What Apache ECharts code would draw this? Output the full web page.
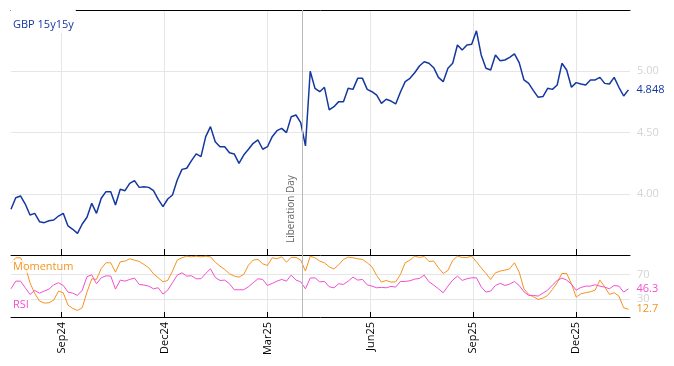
<!DOCTYPE html>
<html><head><meta charset="utf-8">
<script src="https://cdn.jsdelivr.net/npm/echarts@6/dist/echarts.min.js"></script>
<style>html,body{margin:0;padding:0;background:#fff}#c{width:674px;height:366px}</style>
</head><body><div id="c"></div>
<script>
// ---- data (one sample every STEP business days from START_DATE) ----
const START_DATE = '2024-07-18';
const STEP = 3;
const gbp = [3.873,3.968,3.982,3.916,3.827,3.84,3.772,3.764,3.78,3.786,
3.818,3.84,3.737,3.71,3.677,3.753,3.808,3.922,3.84,3.963,
4.017,4.017,3.908,4.036,4.025,4.085,4.107,4.052,4.058,4.052,
4.025,3.954,3.895,3.957,3.99,4.112,4.199,4.208,4.27,4.325,
4.303,4.466,4.548,4.425,4.384,4.384,4.335,4.325,4.248,4.316,
4.363,4.412,4.439,4.363,4.384,4.466,4.515,4.534,4.499,4.629,
4.643,4.58,4.39,5.0,4.861,4.833,4.869,4.684,4.711,4.752,
4.752,4.861,4.852,4.942,4.942,4.852,4.833,4.806,4.738,4.771,
4.757,4.733,4.831,4.915,4.942,4.988,5.043,5.078,5.065,5.029,
4.95,4.915,5.024,5.065,5.214,5.173,5.214,5.22,5.33,5.133,
5.024,5.01,5.133,5.086,5.092,5.114,5.141,5.07,4.929,4.901,
4.842,4.787,4.793,4.861,4.852,4.888,5.065,5.01,4.869,4.907,
4.896,4.888,4.929,4.929,4.95,4.901,4.896,4.95,4.869,4.798,4.848];
const momentum = [89.2,97.4,97.4,83.7,56.3,38.8,26.2,22.9,23.4,27.8,
42.6,39.9,19.6,14.1,10.8,15.2,41,62.9,61.8,79.9,
89.2,89.2,73.8,90.8,91.9,95.8,93.6,91.4,86.4,81,
71.1,64.5,57.9,60.1,75.5,93.6,97.4,100,99,100,
99,100,99,90.3,83.7,78.2,71.1,67.3,65.6,70,
85.3,93.6,94.7,87.5,84.8,97.4,95.8,99,90.3,98,
98,93.6,75.5,100,97.4,91.9,89.2,82.6,79,86,
94.7,98.5,97.4,95.8,94.7,89.2,82.6,68.4,57.4,60.1,
57.4,57.9,70,89.2,93.6,100,98,99.6,91.4,91.9,
81,71.6,76.6,93,100,98,98,100,90.8,81,
71.6,61.8,72.7,75.5,77.1,79.3,89.2,73.8,46.4,37.1,
33.3,28.9,31.1,35.5,45.3,56.3,71.6,71.6,54.7,32.7,
38.2,39.9,41.5,44.2,60.7,49.7,37.1,39.9,34.4,15.2,12.7];
const rsi = [46.4,59,59,48.1,37.1,43.7,39.3,42.6,45.9,53,
56.3,51.9,41,39.3,35.5,44.2,66.2,69.5,54.7,64.5,
67.8,67.3,45.9,60.7,59,61.8,64,53.6,52.5,50.8,
46.4,48.1,37.7,44.2,56.3,68.9,72.7,67.3,67.8,62.9,
62.9,71.6,79.3,65.1,60.1,60.7,54.7,44.8,44.8,44.8,
49.7,56.3,62.9,61.8,51.9,55.2,59,61.8,59,68.9,
60.7,57.9,46.4,64,64.5,57.9,58.5,49.7,48,54.7,
53.6,59,65.6,60.7,61.8,53,50.8,48.1,48.7,48.1,
50.3,49.2,58.5,58.5,59.6,62.3,63.4,68.9,57.9,52.5,
46.4,39.9,50.8,60.7,67.3,60.2,62.9,64.5,64.5,49.7,
41,42.6,51.9,55.2,51.9,54.1,58.5,51.9,41.5,35.5,
35.5,34.4,39.3,44.2,52.5,60.1,64,60.7,54.1,44.2,
48.6,50.8,50.8,53,50.8,49.2,46.4,51.9,50.8,41,46.3];
const tickDates = ['2024-09-02','2024-12-02','2025-03-03','2025-06-02','2025-09-01','2025-12-01'];
const tickLabels = ['Sep24','Dec24','Mar25','Jun25','Sep25','Dec25'];
const gbpTicks = [4.0, 4.5, 5.0];
const oscTicks = [30, 70];
const eventDate = '2025-04-02';
const eventLabel = 'Liberation Day';
const X_MAX = 391;

function bdayIndex(d) {
  const s = new Date(START_DATE + 'T00:00:00Z'), e = new Date(d + 'T00:00:00Z');
  let n = 0;
  for (let t = new Date(s); t < e; t.setUTCDate(t.getUTCDate() + 1)) {
    const w = t.getUTCDay(); if (w !== 0 && w !== 6) n++;
  }
  return n;
}
const tickIdx = tickDates.map(bdayIndex);
const eventIdx = bdayIndex(eventDate);
const toPts = arr => arr.map((v, k) => [k * STEP, v]);

const FONT = 'Open Sans';
const BLUE = '#1438a0', ORANGE = '#f7931e', PINK = '#f24fd2';
const LIGHT = '#d4d4d4', GRID = '#e6e6e6', EVT = '#b8b8b8';

const xBase = (gi, showLabel, tickLen) => ({
  type: 'value', gridIndex: gi, min: 0, max: X_MAX, position: 'bottom',
  axisLine: { show: true, lineStyle: { color: '#000', width: 1 } },
  axisTick: { show: true, inside: true, length: tickLen, customValues: tickIdx, lineStyle: { color: '#000' } },
  axisLabel: {
    show: showLabel, customValues: tickIdx, rotate: 90, margin: 5,
    color: '#000', fontSize: 11, fontFamily: FONT,
    formatter: v => { const i = tickIdx.indexOf(v); return i >= 0 ? tickLabels[i] : ''; }
  },
  splitLine: { show: true, lineStyle: { color: GRID, width: 1 } }
});

const chart = echarts.init(document.getElementById('c'));
chart.setOption({
  animation: false,
  backgroundColor: '#fff',
  title: [
    { text: 'GBP 15y15y', left: 11, top: 10, padding: [9, 2, 3, 2], backgroundColor: '#fff',
      textStyle: { color: BLUE, fontSize: 11, fontWeight: 'normal', fontFamily: FONT } },
    { text: 'Momentum', left: 11, top: 260, padding: [1, 2, 1, 2], backgroundColor: 'rgba(255,255,255,0.7)',
      textStyle: { color: ORANGE, fontSize: 11, fontWeight: 'normal', fontFamily: FONT } },
    { text: 'RSI', left: 11, top: 298, padding: [1, 2, 1, 2], backgroundColor: 'rgba(255,255,255,0.7)',
      textStyle: { color: PINK, fontSize: 11, fontWeight: 'normal', fontFamily: FONT } }
  ],
  grid: [
    { left: 11, right: 44, top: 10, height: 245 },
    { left: 11, right: 44, top: 255, height: 62 }
  ],
  xAxis: [
    xBase(0, false, 6),
    xBase(1, true, 5),
    { type: 'value', gridIndex: 0, min: 0, max: X_MAX, position: 'top',
      axisLine: { show: true, lineStyle: { color: '#000', width: 1 } },
      axisTick: { show: false }, axisLabel: { show: false }, splitLine: { show: false } }
  ],
  yAxis: [
    { type: 'value', gridIndex: 0, position: 'right', min: 3.5, max: 5.5,
      axisLine: { show: false }, axisTick: { show: false, customValues: gbpTicks },
      axisLabel: { customValues: gbpTicks, color: LIGHT, fontSize: 11, fontFamily: FONT, margin: 7,
        formatter: v => v.toFixed(2) },
      splitLine: { show: true, lineStyle: { color: GRID } } },
    { type: 'value', gridIndex: 1, position: 'right', min: 0, max: 102,
      axisLine: { show: false }, axisTick: { show: false, customValues: oscTicks },
      axisLabel: { customValues: oscTicks, color: LIGHT, fontSize: 11, fontFamily: FONT, margin: 7 },
      splitLine: { show: true, lineStyle: { color: GRID } } }
  ],
  series: [
    { type: 'line', xAxisIndex: 0, yAxisIndex: 0, data: toPts(gbp), showSymbol: false,
      lineStyle: { color: BLUE, width: 1.5 }, itemStyle: { color: BLUE },
      endLabel: { show: true, distance: 8, color: BLUE, fontSize: 11, fontFamily: FONT,
        formatter: p => p.value[1].toFixed(3) },
      markLine: { silent: true, symbol: 'none', animation: false,
        lineStyle: { color: EVT, type: 'solid', width: 1 },
        label: { show: true, position: 'insideStartTop', formatter: eventLabel, color: '#666',
          fontSize: 10, fontFamily: FONT, distance: [12, 6] },
        data: [{ xAxis: eventIdx }] } },
    { type: 'line', xAxisIndex: 1, yAxisIndex: 1, data: toPts(momentum), showSymbol: false,
      lineStyle: { color: ORANGE, width: 1 }, itemStyle: { color: ORANGE },
      endLabel: { show: true, distance: 8, color: ORANGE, fontSize: 11, fontFamily: FONT,
        formatter: p => p.value[1].toFixed(1) },
      markLine: { silent: true, symbol: 'none', animation: false,
        lineStyle: { color: EVT, type: 'solid', width: 1 }, label: { show: false },
        data: [{ xAxis: eventIdx }] } },
    { type: 'line', xAxisIndex: 1, yAxisIndex: 1, data: toPts(rsi), showSymbol: false,
      lineStyle: { color: PINK, width: 1 }, itemStyle: { color: PINK },
      endLabel: { show: true, distance: 8, color: PINK, fontSize: 11, fontFamily: FONT,
        formatter: p => p.value[1].toFixed(1) } }
  ]
});
</script></body></html>
